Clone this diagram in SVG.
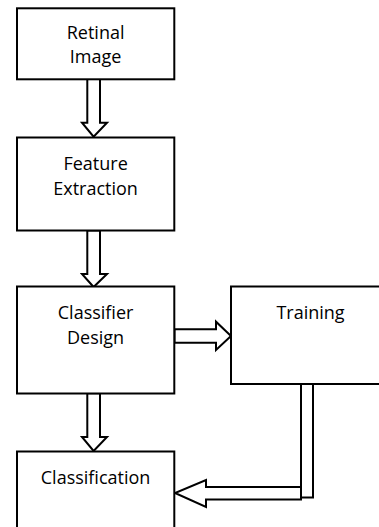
<svg xmlns="http://www.w3.org/2000/svg" width="379" height="527" viewBox="0 0 379 527">
<style>
.box{fill:#fff;stroke:#000;stroke-width:2}
.arr{fill:#fff;stroke:#000;stroke-width:2;stroke-linejoin:miter}
text{font-family:"Open Sans","Noto Sans",sans-serif;font-size:18px;fill:#000;text-anchor:middle}
</style>
<rect width="379" height="527" fill="#fff"/>
<g id="connectors">
<polygon class="arr" points="87.3,79 100,79 100,122.7 107,122.7 93.6,136.7 82,122.7 87.3,122.7"/>
<polygon class="arr" points="87.3,230.5 100,230.5 100,274 107,274 93.6,287 82,274 87.3,274"/>
<polygon class="arr" points="87.3,393.3 100,393.3 100,437 107,437 93.6,451 82,437 87.3,437"/>
<polygon class="arr" points="174.5,329.3 216,329.3 216,321.7 231,336 216,350 216,342.7 174.5,342.7"/>
<rect class="arr" x="301" y="384" width="12" height="113.5"/>
<polygon class="arr" points="301,487 206,487 206,480 175,493 206,507 206,499.5 301,499.5"/>
</g>
<g id="retinal-image">
<rect class="box" x="17" y="8.3" width="157.3" height="71"/>
<text x="95.6" y="39">Retinal</text>
<text x="95.6" y="63">Image</text>
</g>
<g id="feature-extraction">
<rect class="box" x="17" y="137.5" width="157.3" height="93"/>
<text x="95.6" y="169.5">Feature</text>
<text x="95.6" y="195">Extraction</text>
</g>
<g id="classifier-design">
<rect class="box" x="17" y="286.5" width="157.3" height="107"/>
<text x="95.6" y="318.5">Classifier</text>
<text x="95.6" y="344">Design</text>
</g>
<g id="training">
<rect class="box" x="231" y="286.5" width="162" height="97.5"/>
<text x="310.5" y="318.5">Training</text>
</g>
<g id="classification">
<rect class="box" x="17" y="451.5" width="157.3" height="90"/>
<text x="95.6" y="483.5">Classification</text>
</g>
</svg>
